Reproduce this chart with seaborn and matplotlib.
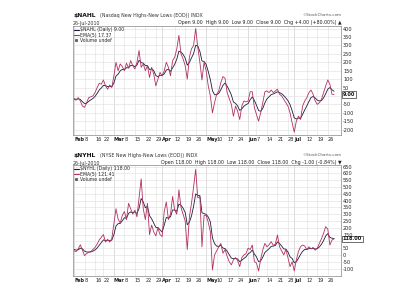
import matplotlib
matplotlib.use("Agg")
import matplotlib.pyplot as plt
from matplotlib.lines import Line2D
import numpy as np
import pandas as pd
import seaborn as sns

# ---------------- data (trading-day index from 1-Feb-2010) ----------------
nahl_daily = [-20, -25, -10, -30, -60, -68, -40, -10, -5, 0, 20, 50, 75, 70, 95, 60, 40, 65, 50,
              120, 200, 150, 190, 175, 150, 195, 165, 210, 180, 160, 200, 270, 170, 190, 150, 180,
              110, 170, 130, 60, 100, 140, 120, 150, 200, 170, 120, 210, 230, 280, 360, 250, 220,
              180, 100, 230, 280, 300, 400, 290, 200, 95, 200, 150, 60, 0, -100, -40, 10, 30, 80,
              115, 105, 20, -15, -50, -120, -60, -90, -140, -60, -30, -35, -30, 25, 25, -70, -110,
              -150, -100, -40, 25, 30, 20, 35, 20, 30, 40, 10, 0, -20, -40, -60, -100, -160, -215,
              -150, -120, -140, -60, -30, -10, 20, 35, 10, -30, -50, -40, -20, 20, 60, 95, 70, 10, 9]
nahl_ema = [-17, -20, -17, -21, -34, -45, -43, -32, -23, -15, -3, 15, 35, 47, 63, 62, 55, 58, 55,
            77, 118, 129, 149, 158, 155, 168, 167, 181, 181, 174, 183, 212, 198, 195, 180, 180,
            157, 161, 151, 121, 114, 123, 122, 131, 154, 159, 146, 167, 188, 219, 266, 261, 247,
            225, 183, 199, 226, 251, 301, 297, 265, 208, 205, 187, 145, 97, 31, 7, 8, 15, 37,
            63, 77, 58, 34, 6, -36, -44, -59, -86, -77, -61, -52, -45, -22, -6, -27, -55,
            -87, -91, -74, -41, -17, -5, 8, 12, 18, 25, 20, 13, 2, -12, -28, -52, -88, -130,
            -137, -131, -134, -109, -83, -59, -33, -10, -3, -12, -25, -30, -27, -11, 13, 40, 50, 37, 28]

nyhl_daily = [30, 25, 45, 75, 35, -5, 10, 20, 25, 40, 55, 80, 110, 130, 150, 95, 115, 95, 120,
              230, 340, 265, 235, 290, 320, 260, 380, 340, 300, 330, 280, 420, 560, 340, 260, 380,
              150, 220, 170, 140, 200, 150, 135, 320, 390, 260, 300, 430, 330, 300, 480, 350, 300,
              250, 40, 280, 380, 500, 630, 420, 430, 60, 290, 290, 240, 170, -110, 0, 30, 60, 85,
              12, 40, -10, -50, -73, -37, -20, -40, -86, -20, 0, 10, 50, 40, 73, -50, -60,
              -118, -30, 37, 85, 60, 75, 98, 70, 80, 147, 60, 30, 0, 40, -20, -86, -50, -118,
              -37, 25, 61, 73, 65, 40, 60, 45, 55, 35, 50, 86, 120, 160, 208, 190, 73, 110, 118]
nyhl_ema = [40, 35, 38, 50, 45, 28, 22, 21, 22, 28, 37, 51, 71, 91, 111, 106, 109, 104, 109,
            149, 213, 230, 232, 251, 274, 269, 306, 317, 311, 317, 305, 343, 415, 390, 347, 358,
            289, 266, 234, 203, 202, 185, 168, 219, 276, 271, 281, 331, 331, 321, 374, 366, 344,
            313, 222, 241, 287, 358, 449, 439, 436, 311, 304, 299, 279, 243, 125, 83, 65, 63, 70,
            51, 47, 28, 2, -23, -28, -25, -30, -49, -39, -26, -14, 7, 18, 36, 7, -15,
            -49, -43, -16, 18, 32, 46, 63, 65, 70, 96, 84, 66, 44, 43, 22, -14, -26, -57,
            -50, -25, 4, 27, 40, 40, 47, 46, 49, 44, 46, 59, 79, 106, 140, 157, 129, 123, 121]

tick_pos = [0, 5, 10, 14, 19, 24, 29, 34, 39, 42, 48, 53, 58, 63, 68, 73, 78, 83, 87, 92, 97,
            102, 105, 111, 116, 121]
tick_labels = ["Feb", "8", "16", "22", "Mar", "8", "15", "22", "29", "Apr", "12", "19", "26",
               "May", "10", "17", "24", "Jun", "7", "14", "21", "28", "Jul", "12", "19", "26"]
months = {"Feb", "Mar", "Apr", "May", "Jun", "Jul"}

nahl_yticks = list(range(-200, 401, 50))
nyhl_yticks = list(range(-100, 651, 50))

RED = "#b3305f"
NAVY = "#1c1c3c"
FS = 3.6

sns.set_style("white")
plt.rcParams["font.family"] = ["DejaVu Sans"]

fig = plt.figure(figsize=(4, 3), dpi=100)
fig.patch.set_facecolor("white")


def panel(rect, daily, ema, ylim, yticks, sym, ema_txt):
    ax = fig.add_axes(rect)
    df = pd.DataFrame({"d": np.arange(len(daily)), "daily": daily, "ema": ema})
    sns.lineplot(data=df, x="d", y="ema", ax=ax, color=NAVY, lw=0.6)
    sns.lineplot(data=df, x="d", y="daily", ax=ax, color=RED, lw=0.6)
    ax.set_xlim(-0.5, 127.3)
    ax.set_ylim(*ylim)
    ax.set_xlabel("")
    ax.set_ylabel("")
    ax.set_xticks(tick_pos)
    ax.set_xticklabels(tick_labels)
    for lab in ax.get_xticklabels():
        lab.set_ha("left")
        lab.set_fontsize(FS)
        if lab.get_text() in months:
            lab.set_fontweight("bold")
    last = daily[-1]
    # the tick label hidden behind the last-value box is left blank, as in the reference
    ylabels = ["" if abs(t - last) < 25 else str(t) for t in yticks]
    ax.set_yticks(yticks)
    ax.set_yticklabels(ylabels)
    ax.yaxis.tick_right()
    ax.tick_params(axis="both", length=0, pad=1.5, labelsize=FS, colors="#222222")
    ax.grid(True, color="#e2e2e2", lw=0.45)
    for p, l in zip(tick_pos, tick_labels):
        if l in months:
            ax.axvline(p, color="#c4c4c4", lw=0.5, zorder=0)
    for s in ax.spines.values():
        s.set_color("#9a9a9a")
        s.set_linewidth(0.6)
    h = [Line2D([], [], color=NAVY, lw=0.8), Line2D([], [], color=RED, lw=0.8),
         Line2D([], [], color="#666666", marker="s", ms=1.2, lw=0)]
    ax.legend(h, [f"{sym} (Daily) {last:.2f}", f"EMA(5) {ema_txt}", "Volume undef"],
              loc="upper left", fontsize=FS - 0.3, frameon=False, handlelength=0.9,
              handletextpad=0.3, labelspacing=0.05, borderaxespad=0.2, borderpad=0.1)
    ax.annotate(f"{last:.2f}", xy=(1, last), xycoords=("axes fraction", "data"),
                xytext=(1.2, 0), textcoords="offset points", ha="left", va="center",
                fontsize=FS, fontweight="bold", color="#111111",
                bbox=dict(boxstyle="square,pad=0.15", fc="white", ec="#333333", lw=0.5),
                annotation_clip=False)
    return ax


ax1 = panel([0.1825, 0.55, 0.67, 0.363], nahl_daily, nahl_ema, (-232, 415), nahl_yticks,
            "$NAHL", "17.37")
ax2 = panel([0.1825, 0.08, 0.67, 0.37], nyhl_daily, nyhl_ema, (-155, 662), nyhl_yticks,
            "$NYHL", "121.41")


def header(ytop, sym, name, openline):
    fig.text(0.1825, ytop, sym, fontsize=4.3, fontweight="bold", va="baseline", color="#111111")
    fig.text(0.25, ytop, name, fontsize=3.4, va="baseline", color="#333333")
    fig.text(0.1825, ytop - 0.024, "26-Jul-2010", fontsize=3.4, va="baseline", color="#333333")
    fig.text(0.855, ytop + 0.004, "\u00a9StockCharts.com", fontsize=3.0, va="baseline",
             ha="right", color="#555555")
    fig.text(0.855, ytop - 0.022, openline, fontsize=3.4, va="baseline", ha="right",
             color="#222222")


header(0.942, "$NAHL", "(Nasdaq New Highs-New Lows (EOD)) INDX",
       "Open 9.00  High 9.00  Low 9.00  Close 9.00  Chg +4.00 (+80.00%) \u25b2")
header(0.475, "$NYHL", "(NYSE New Highs-New Lows (EOD)) INDX",
       "Open 118.00  High 118.00  Low 118.00  Close 118.00  Chg -1.00 (-0.84%) \u25bc")

fig.savefig("out.png", dpi=100, facecolor="white")
